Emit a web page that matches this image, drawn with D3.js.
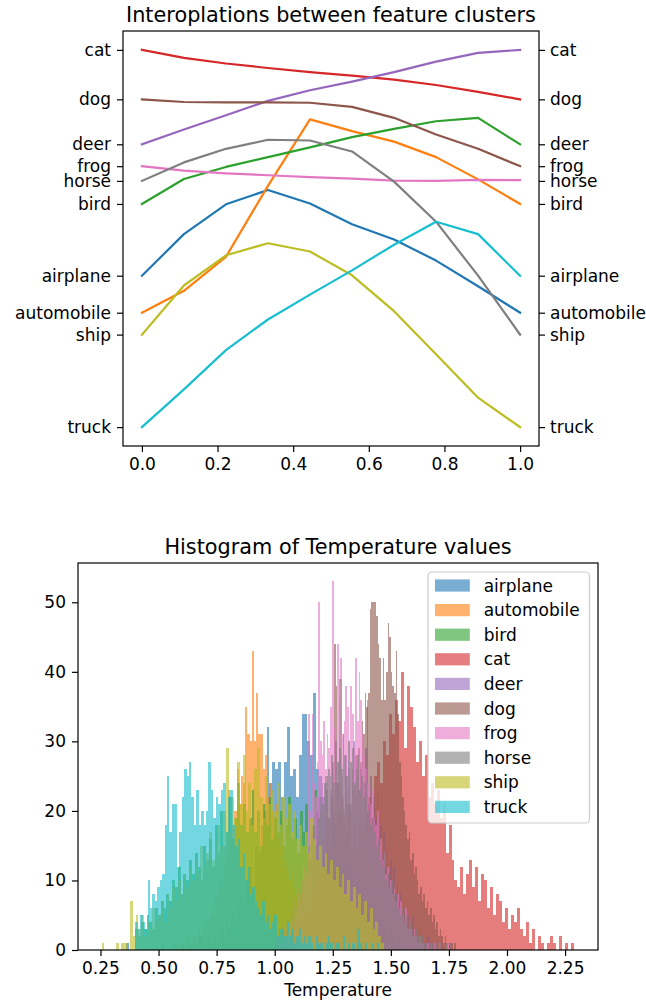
<!DOCTYPE html>
<html><head><meta charset="utf-8">
<script src="https://cdn.jsdelivr.net/npm/d3@7"></script>
<style>
body{margin:0;background:#fff}
text{font-family:"DejaVu Sans",sans-serif;fill:#000}
</style>
</head><body>
<svg id="c" width="646" height="1001"></svg>
<script>
// ---------- data ----------
const categories = ["airplane","automobile","bird","cat","deer","dog","frog","horse","ship","truck"];
const colors = ["#1f77b4","#ff7f0e","#2ca02c","#d62728","#9467bd","#8c564b","#e377c2","#7f7f7f","#bcbd22","#17becf"];

// interpolation steps (x axis of top chart)
const interpSteps = [0, 0.1111, 0.2222, 0.3333, 0.4444, 0.5556, 0.6667, 0.7778, 0.8889, 1.0];
// positions of the class labels on the y axis
const categoryLevels = [40.1, 30.3, 59.1, 99.9, 74.9, 86.8, 69.1, 65.2, 24.5, 0];
const xTicksTop = [0, 0.2, 0.4, 0.6, 0.8, 1.0];

const lineAirplane   = [40.1, 51.1, 59.0, 62.8, 59.2, 53.7, 49.7, 44.1, 37.3, 30.3];
const lineAutomobile = [30.3, 36.1, 45.1, 63.9, 81.5, 78.4, 75.6, 71.5, 65.6, 59.1];
const lineBird       = [59.1, 65.7, 68.9, 71.5, 74.1, 76.8, 79.0, 81.0, 81.9, 74.9];
const lineCat        = [99.9, 97.8, 96.3, 95.1, 94.0, 93.1, 92.0, 90.6, 88.8, 86.8];
const lineDeer       = [74.9, 78.8, 82.6, 86.4, 89.2, 91.5, 94.0, 96.8, 99.1, 99.9];
const lineDog        = [86.8, 86.1, 86.0, 86.0, 85.9, 84.8, 81.9, 77.5, 73.7, 69.1];
const lineFrog       = [69.1, 67.9, 67.2, 66.7, 66.2, 65.8, 65.3, 65.2, 65.5, 65.4];
const lineHorse      = [65.2, 70.1, 73.7, 76.1, 75.9, 73.0, 65.0, 54.4, 40.1, 24.5];
const lineShip       = [24.5, 37.5, 45.5, 48.7, 46.5, 40.2, 30.7, 19.3, 7.8, 0.0];
const lineTruck      = [0.0, 10.0, 20.4, 28.5, 35.1, 41.5, 48.3, 54.4, 51.1, 40.1];

// histogram: per class value range [min, max] (100 equal bins) and counts
const histRangeAirplane   = [0.36, 1.62];
const histRangeAutomobile = [0.52, 1.45];
const histRangeBird       = [0.40, 1.62];
const histRangeCat        = [1.00, 2.29];
const histRangeDeer       = [1.00, 1.72];
const histRangeDog        = [1.08, 1.78];
const histRangeFrog       = [1.03, 1.75];
const histRangeHorse      = [0.98, 1.78];
const histRangeShip       = [0.255, 1.47];
const histRangeTruck      = [0.40, 1.45];

const histAirplane = [1,0,0,0,0,0,0,0,0,0, 0,0,1,0,0,0,1,0,0,1, 0,1,0,1,0,2,1,0,2,1, 2,1,3,2,4,3,5,4,6,8,
  7,10,12,9,15,14,18,20,32,24, 27,26,27,22,27,32,25,26,22,28, 34,34,30,28,37,26,25,22,24,19,
  20,17,18,15,14,12,13,10,9,11, 8,7,6,7,5,4,5,3,4,2, 3,2,1,2,1,0,1,0,1,1];
const histAutomobile = [1,0,0,1,0,0,1,0,1,1, 0,2,1,1,2,1,3,2,4,3, 4,5,6,5,8,7,10,9,12,14,
  23,16,18,20,26,21,25,24,35,31, 30,43,30,37,31,31,26,28,22,24, 20,19,21,16,15,17,13,12,10,11,
  9,8,7,8,5,6,4,5,3,4, 3,2,3,1,2,2,1,0,1,1, 1,0,1,0,0,1,0,0,1,0, 0,0,1,0,0,0,0,0,0,1];
const histBird = [3,2,4,3,5,4,3,6,5,7, 6,8,7,10,9,12,8,11,10,13, 11,14,12,10,15,13,16,12,18,14,
  20,15,17,22,16,19,24,18,21,17, 19,23,17,20,15,21,18,22,16,19, 17,20,15,18,22,16,19,14,20,17,
  21,15,18,23,17,20,16,25,19,22, 18,24,39,20,17,21,15,18,13,16, 12,14,10,11,8,9,7,8,5,6, 4,5,3,4,2,3,1,2,1,1];
const histCat = [1,0,1,1,2,1,2,3,2,3, 3,4,3,5,4,6,5,7,6,8, 9,8,11,10,13,12,15,14,18,17,
  20,22,19,25,27,24,30,28,34,31, 36,33,40,29,38,35,32,27,30,25, 28,22,24,21,23,19,21,14,18,13,
  10,9,12,8,11,13,9,12,7,11, 10,6,9,5,8,7,4,6,3,5, 4,6,3,2,4,1,3,0,2,1, 0,1,2,1,0,2,0,1,0,1];
const histDeer = [1,0,2,1,1,3,2,2,4,3, 5,4,6,5,8,7,9,8,11,10, 14,12,17,15,20,18,22,16,24,19,
  21,25,18,23,26,20,24,22,27,21, 25,19,28,23,26,21,24,30,22,27, 23,26,20,24,29,36,21,25,18,22,
  19,23,16,18,14,17,12,15,11,13, 10,12,8,9,7,8,5,6,4,5, 4,3,5,2,3,2,3,1,2,1, 1,2,0,1,1,0,1,0,0,1];
const histDog = [1,2,1,3,2,4,3,5,4,6, 7,6,9,8,11,10,12,11,14,13, 16,19,15,22,27,44,38,24,20,23,
  22,19,25,21,24,20,26,23,28,25, 29,27,33,31,37,35,37,49,50,50, 50,48,44,42,36,42,36,40,47,45,
  40,38,37,43,34,27,25,22,20,18, 16,17,13,14,11,12,10,8,9,7, 8,6,7,5,6,4,5,3,4,2, 3,2,1,2,1,0,1,1,0,1];
const histFrog = [1,0,2,1,3,2,4,3,5,6, 8,7,10,12,11,15,34,20,34,24, 22,27,50,30,28,33,26,31,29,35,
  53,32,30,44,36,42,31,33,38,35, 30,38,34,29,42,33,40,36,31,28, 26,24,27,21,23,19,18,20,15,16,
  13,14,11,12,9,10,8,9,7,8, 6,7,5,4,6,3,4,3,2,3, 2,1,2,1,1,0,1,1,0,1, 0,1,0,0,1,0,0,0,0,1];
const histHorse = [1,0,1,2,1,2,3,2,4,3, 5,4,6,7,6,9,8,10,12,11, 14,13,16,18,15,20,19,22,21,24,
  23,26,25,28,24,30,27,29,26,31, 28,25,30,27,29,24,26,28,23,25, 22,24,20,21,18,19,17,15,16,13,
  12,14,10,11,9,10,8,7,8,6, 5,6,4,5,3,4,3,2,3,2, 2,1,2,1,1,0,1,1,0,1, 0,1,0,0,1,0,0,1,0,0];
const histShip = [1,0,0,0,0,1,0,1,1,0, 7,2,5,3,5,2,4,3,6,4, 5,7,4,8,6,9,7,10,8,11,
  9,12,10,13,11,15,12,14,17,13, 16,18,15,20,29,17,22,19,27,21, 28,20,24,18,26,29,22,19,25,21,
  23,20,24,18,22,19,21,17,20,16, 18,15,17,14,19,16,13,15,12,14, 11,13,10,12,9,11,8,10,7,9, 6,8,5,7,4,6,3,4,2,1];
const histTruck = [4,3,5,4,3,10,6,8,7,9, 10,11,18,25,17,21,21,12,17,22, 26,25,27,22,18,23,18,20,18,20,
  27,23,19,22,21,23,24,17,22,23, 18,15,16,12,14,10,12,8,9,7, 6,5,7,4,5,3,4,5,2,3,
  3,2,4,2,3,1,2,3,1,2, 1,2,1,0,2,1,1,0,1,2, 1,0,1,1,0,2,0,1,0,1, 0,3,1,0,1,0,0,1,0,1];
const yTicksHist = [0, 10, 20, 30, 40, 50];
const xTicksHist = [0.25, 0.50, 0.75, 1.00, 1.25, 1.50, 1.75, 2.00, 2.25];

// ---------- drawing ----------
const svg = d3.select("#c");
const FS = 17, TFS = 20.8;

const lines = [lineAirplane, lineAutomobile, lineBird, lineCat, lineDeer, lineDog, lineFrog, lineHorse, lineShip, lineTruck];
const hists = [histAirplane, histAutomobile, histBird, histCat, histDeer, histDog, histFrog, histHorse, histShip, histTruck];
const histRanges = [histRangeAirplane, histRangeAutomobile, histRangeBird, histRangeCat, histRangeDeer,
  histRangeDog, histRangeFrog, histRangeHorse, histRangeShip, histRangeTruck];

function styleAxis(g){
  g.select(".domain").remove();
  g.selectAll(".tick line").attr("stroke","#000").attr("stroke-width",1.2);
  g.selectAll(".tick text").attr("font-size",FS).attr("fill","#000").attr("font-family","DejaVu Sans");
}

// ---- top chart ----
const T = {l:123, r:539, t:31, b:446};
const xT = d3.scaleLinear().domain([-0.05,1.05]).range([T.l,T.r]);
const yT = d3.scaleLinear().domain([-5,104.9]).range([T.b,T.t]);

const topG = svg.append("g");
const lineGen = d3.line().x((d,i)=>xT(interpSteps[i])).y(d=>yT(d));
lines.forEach((vals,k)=>{
  topG.append("path").datum(vals).attr("d",lineGen)
    .attr("fill","none").attr("stroke",colors[k]).attr("stroke-width",2.2)
    .attr("stroke-linejoin","round").attr("stroke-linecap","square");
});
topG.append("g").attr("transform",`translate(${T.l},0)`)
  .call(d3.axisLeft(yT).tickValues(categoryLevels).tickFormat((d,i)=>categories[i]).tickSize(6).tickPadding(6))
  .call(styleAxis);
topG.append("g").attr("transform",`translate(${T.r},0)`)
  .call(d3.axisRight(yT).tickValues(categoryLevels).tickFormat((d,i)=>categories[i]).tickSize(6).tickPadding(5))
  .call(styleAxis);
topG.append("g").attr("transform",`translate(0,${T.b})`)
  .call(d3.axisBottom(xT).tickValues(xTicksTop).tickFormat(d3.format(".1f")).tickSize(6).tickPadding(6))
  .call(styleAxis);
topG.append("rect").attr("x",T.l).attr("y",T.t).attr("width",T.r-T.l).attr("height",T.b-T.t)
  .attr("fill","none").attr("stroke","#000").attr("stroke-width",1.2);
topG.append("text").attr("x",(T.l+T.r)/2).attr("y",T.t-9).attr("text-anchor","middle")
  .attr("font-size",TFS).text("Interoplations between feature clusters");

// ---- histogram ----
const H = {l:78, r:598, t:563, b:950};
const allMin = d3.min(histRanges,d=>d[0]), allMax = d3.max(histRanges,d=>d[1]);
const pad = (allMax-allMin)*0.05;
const xH = d3.scaleLinear().domain([allMin-pad, allMax+pad]).range([H.l,H.r]);
const maxCount = d3.max(hists, h=>d3.max(h));
const yH = d3.scaleLinear().domain([0, maxCount*1.05]).range([H.b,H.t]);

const hg = svg.append("g");
hists.forEach((counts,k)=>{
  const [mn,mx] = histRanges[k];
  const w = (mx-mn)/counts.length;
  const g = hg.append("g").attr("opacity",0.6);
  g.selectAll("rect").data(counts.map((c,i)=>({c, x0:mn+i*w, x1:mn+(i+1)*w})).filter(d=>d.c>0))
    .enter().append("rect")
    .attr("x",d=>xH(d.x0)).attr("width",d=>xH(d.x1)-xH(d.x0))
    .attr("y",d=>yH(d.c)).attr("height",d=>yH(0)-yH(d.c))
    .attr("fill",colors[k]).attr("shape-rendering","crispEdges");
});
hg.append("g").attr("transform",`translate(${H.l},0)`)
  .call(d3.axisLeft(yH).tickValues(yTicksHist).tickFormat(d3.format("d")).tickSize(6).tickPadding(6))
  .call(styleAxis);
hg.append("g").attr("transform",`translate(0,${H.b})`)
  .call(d3.axisBottom(xH).tickValues(xTicksHist).tickFormat(d3.format(".2f")).tickSize(6).tickPadding(6))
  .call(styleAxis);
hg.append("rect").attr("x",H.l).attr("y",H.t).attr("width",H.r-H.l).attr("height",H.b-H.t)
  .attr("fill","none").attr("stroke","#000").attr("stroke-width",1.2);
hg.append("text").attr("x",(H.l+H.r)/2).attr("y",H.t-9).attr("text-anchor","middle")
  .attr("font-size",TFS).text("Histogram of Temperature values");
hg.append("text").attr("x",(H.l+H.r)/2).attr("y",996).attr("text-anchor","middle")
  .attr("font-size",FS).text("Temperature");

// legend
const L = {x:428, y:572, w:161.5, h:251};
const lg = hg.append("g");
lg.append("rect").attr("x",L.x).attr("y",L.y).attr("width",L.w).attr("height",L.h)
  .attr("rx",4).attr("fill","#fff").attr("fill-opacity",0.8).attr("stroke","#ccc").attr("stroke-width",1.2);
categories.forEach((c,i)=>{
  const cy = L.y + 13.5 + i*24.6;
  lg.append("rect").attr("x",L.x+7).attr("y",cy-6.1).attr("width",34.8).attr("height",12.2)
    .attr("fill",colors[i]).attr("fill-opacity",0.6);
  lg.append("text").attr("x",L.x+7+34.8+13.9).attr("y",cy).attr("dy","0.36em")
    .attr("font-size",FS).text(c);
});
</script>
</body></html>
